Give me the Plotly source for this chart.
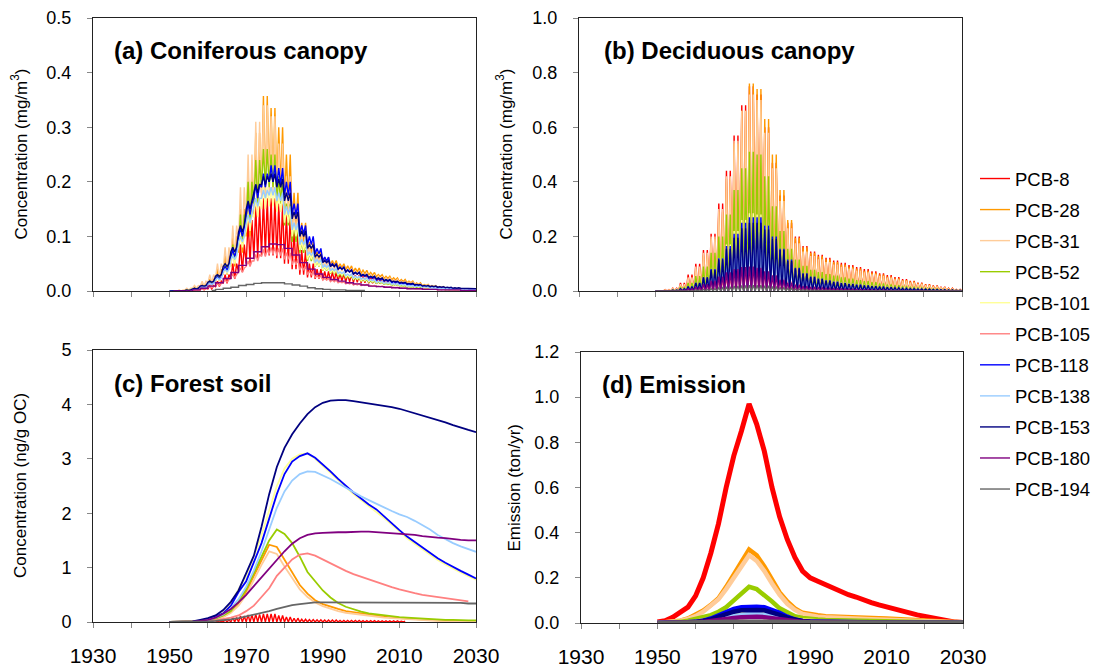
import plotly.graph_objects as go

# ---------------- data ----------------
SERIES = ["PCB-8", "PCB-28", "PCB-31", "PCB-52", "PCB-101", "PCB-105",
          "PCB-118", "PCB-138", "PCB-153", "PCB-180", "PCB-194"]
COLORS = ["#FF0000", "#FF9900", "#FFCC99", "#99CC00", "#FFFF99", "#FF8080",
          "#0000FF", "#99CCFF", "#000080", "#800080", "#666666"]

# two-year bins: 1950, 1952, ..., 2030
BIN_START = list(range(1950, 2031, 2))
X_TICKS = [1930, 1950, 1970, 1990, 2010, 2030]

N = None
# (a) Coniferous canopy, mg/m3 : summer peak and winter trough per 2-yr bin
A_PEAK = {
    "PCB-8":   [N, N, 0, 0.002, 0.005, 0.01, 0.018, 0.03, 0.05, 0.085, 0.13, 0.155, 0.17, 0.17, 0.16, 0.14, 0.11, 0.075, 0.05, 0.04,
                0.036, 0.034, 0.032, 0.031, 0.029, 0.027, 0.026, 0.025, 0.024, 0.022, 0.02, N, N, N, N, N, N, N, N, N, N],
    "PCB-28":  [0, 0, 0.002, 0.006, 0.012, 0.022, 0.04, 0.065, 0.1, 0.15, 0.22, 0.29, 0.357, 0.335, 0.3, 0.25, 0.18, 0.125, 0.09, 0.072,
                0.062, 0.056, 0.05, 0.046, 0.042, 0.038, 0.034, 0.03, 0.027, 0.024, 0.021, 0.018, 0.015, 0.012, 0.01, 0.008, 0.006, 0.005, 0.004, 0.003, 0.002],
    "PCB-31":  [0, 0.002, 0.005, 0.01, 0.018, 0.03, 0.05, 0.08, 0.12, 0.19, 0.25, 0.31, 0.34, 0.32, 0.27, 0.21, 0.15, 0.105, 0.08, 0.065,
                0.056, 0.05, 0.045, 0.041, 0.037, 0.033, 0.03, 0.027, 0.024, 0.021, 0.018, 0.016, 0.013, 0.011, 0.009, 0.007, 0.005, 0.004, 0.003, 0.002, 0.002],
    "PCB-52":  [0, 0, 0.002, 0.005, 0.01, 0.018, 0.03, 0.05, 0.085, 0.14, 0.2, 0.24, 0.26, 0.25, 0.21, 0.16, 0.12, 0.09, 0.07, 0.055,
                0.045, 0.038, 0.032, 0.028, 0.024, 0.021, 0.018, 0.016, 0.014, 0.012, 0.01, 0.008, 0.007, 0.006, 0.005, 0.004, 0.003, 0.002, 0.002, 0.001, 0.001],
    "PCB-101": [0, 0, 0.001, 0.004, 0.008, 0.015, 0.025, 0.04, 0.065, 0.1, 0.14, 0.17, 0.19, 0.19, 0.175, 0.15, 0.12, 0.09, 0.07, 0.055,
                0.045, 0.039, 0.034, 0.03, 0.026, 0.023, 0.02, 0.018, 0.016, 0.014, 0.012, 0.01, 0.009, 0.007, 0.006, 0.005, 0.004, 0.003, 0.002, 0.002, 0.001],
    "PCB-105": [0, 0, 0, 0.002, 0.004, 0.008, 0.013, 0.02, 0.03, 0.042, 0.055, 0.067, 0.076, 0.08, 0.078, 0.07, 0.058, 0.046, 0.036, 0.028,
                0.023, 0.02, 0.017, 0.015, 0.013, 0.012, 0.01, 0.009, 0.008, 0.007, 0.006, 0.005, 0.004, 0.004, 0.003, 0.003, 0.002, 0.002, 0.002, 0.001, 0.001],
    "PCB-118": [0, 0, 0.001, 0.004, 0.008, 0.015, 0.026, 0.045, 0.075, 0.115, 0.16, 0.195, 0.215, 0.23, 0.225, 0.2, 0.16, 0.12, 0.1, 0.078,
                0.062, 0.05, 0.044, 0.039, 0.034, 0.03, 0.026, 0.023, 0.02, 0.017, 0.015, 0.013, 0.011, 0.009, 0.008, 0.006, 0.005, 0.004, 0.003, 0.003, 0.002],
    "PCB-138": [0, 0, 0.001, 0.004, 0.008, 0.014, 0.024, 0.04, 0.065, 0.1, 0.14, 0.17, 0.185, 0.19, 0.18, 0.155, 0.125, 0.095, 0.072, 0.058,
                0.048, 0.041, 0.035, 0.031, 0.027, 0.024, 0.021, 0.018, 0.016, 0.014, 0.012, 0.01, 0.009, 0.008, 0.006, 0.005, 0.004, 0.003, 0.003, 0.002, 0.002],
    "PCB-153": [0, 0, 0.002, 0.005, 0.01, 0.018, 0.03, 0.05, 0.08, 0.12, 0.165, 0.195, 0.21, 0.215, 0.205, 0.18, 0.145, 0.11, 0.085, 0.067,
                0.056, 0.049, 0.043, 0.038, 0.034, 0.03, 0.027, 0.024, 0.021, 0.018, 0.016, 0.014, 0.012, 0.01, 0.009, 0.008, 0.007, 0.006, 0.005, 0.004, 0.004],
    "PCB-180": [0, 0, 0, 0.002, 0.005, 0.009, 0.015, 0.023, 0.034, 0.047, 0.06, 0.072, 0.081, 0.086, 0.085, 0.078, 0.066, 0.052, 0.04, 0.031,
                0.025, 0.021, 0.018, 0.015, 0.013, 0.011, 0.009, 0.008, 0.007, 0.006, 0.005, 0.004, 0.004, 0.003, 0.003, 0.002, 0.002, 0.002, 0.001, 0.001, 0.001],
    "PCB-194": [N, N, N, N, N, 0.001, 0.003, 0.005, 0.007, 0.01, 0.012, 0.014, 0.015, 0.015, 0.015, 0.013, 0.011, 0.009, 0.006, 0.004,
                0.003, 0.002, 0.002, 0.001, 0.001, 0.001, N, N, N, N, N, N, N, N, N, N, N, N, N, N, N],
}
A_TROUGH = {
    "PCB-8":   [N, N, 0, 0.001, 0.002, 0.004, 0.008, 0.014, 0.022, 0.035, 0.05, 0.06, 0.065, 0.065, 0.06, 0.05, 0.04, 0.03, 0.025, 0.022,
                0.02, 0.019, 0.018, 0.017, 0.016, 0.015, 0.014, 0.013, 0.012, 0.011, 0.01, N, N, N, N, N, N, N, N, N, N],
    "PCB-28":  [0, 0, 0, 0.002, 0.005, 0.01, 0.018, 0.03, 0.045, 0.07, 0.1, 0.14, 0.18, 0.2, 0.19, 0.16, 0.12, 0.09, 0.07, 0.058,
                0.052, 0.047, 0.043, 0.039, 0.035, 0.032, 0.029, 0.026, 0.023, 0.02, 0.017, 0.015, 0.012, 0.01, 0.008, 0.006, 0.005, 0.004, 0.003, 0.002, 0.001],
    "PCB-31":  [0, 0, 0.002, 0.005, 0.009, 0.015, 0.025, 0.04, 0.06, 0.09, 0.12, 0.15, 0.17, 0.18, 0.16, 0.13, 0.1, 0.075, 0.06, 0.05,
                0.045, 0.04, 0.036, 0.033, 0.03, 0.027, 0.024, 0.021, 0.019, 0.017, 0.015, 0.013, 0.011, 0.009, 0.007, 0.006, 0.004, 0.003, 0.002, 0.002, 0.001],
    "PCB-52":  [0, 0, 0.001, 0.004, 0.008, 0.014, 0.022, 0.035, 0.055, 0.08, 0.12, 0.16, 0.19, 0.19, 0.16, 0.12, 0.09, 0.07, 0.055, 0.045,
                0.037, 0.032, 0.027, 0.024, 0.021, 0.018, 0.016, 0.014, 0.012, 0.01, 0.009, 0.007, 0.006, 0.005, 0.004, 0.003, 0.002, 0.002, 0.001, 0.001, 0.001],
    "PCB-101": [0, 0, 0.001, 0.003, 0.007, 0.012, 0.02, 0.032, 0.05, 0.08, 0.11, 0.135, 0.15, 0.155, 0.145, 0.125, 0.1, 0.075, 0.058, 0.046,
                0.038, 0.033, 0.029, 0.025, 0.022, 0.019, 0.017, 0.015, 0.013, 0.011, 0.01, 0.008, 0.007, 0.006, 0.005, 0.004, 0.003, 0.002, 0.002, 0.001, 0.001],
    "PCB-105": [0, 0, 0, 0.001, 0.003, 0.006, 0.01, 0.016, 0.024, 0.034, 0.045, 0.055, 0.063, 0.067, 0.065, 0.058, 0.048, 0.038, 0.03, 0.024,
                0.02, 0.017, 0.015, 0.013, 0.011, 0.01, 0.009, 0.008, 0.007, 0.006, 0.005, 0.004, 0.004, 0.003, 0.003, 0.002, 0.002, 0.002, 0.001, 0.001, 0.001],
    "PCB-118": [0, 0, 0.001, 0.003, 0.007, 0.012, 0.022, 0.038, 0.063, 0.1, 0.14, 0.17, 0.19, 0.2, 0.195, 0.175, 0.14, 0.105, 0.085, 0.068,
                0.055, 0.045, 0.04, 0.035, 0.031, 0.027, 0.023, 0.02, 0.018, 0.015, 0.013, 0.011, 0.01, 0.008, 0.007, 0.005, 0.004, 0.004, 0.003, 0.002, 0.002],
    "PCB-138": [0, 0, 0.001, 0.003, 0.007, 0.012, 0.021, 0.035, 0.058, 0.09, 0.125, 0.155, 0.17, 0.175, 0.165, 0.14, 0.112, 0.085, 0.065, 0.052,
                0.043, 0.037, 0.032, 0.028, 0.024, 0.021, 0.019, 0.016, 0.014, 0.012, 0.011, 0.009, 0.008, 0.007, 0.005, 0.004, 0.004, 0.003, 0.002, 0.002, 0.001],
    "PCB-153": [0, 0, 0.001, 0.004, 0.009, 0.016, 0.027, 0.045, 0.072, 0.108, 0.15, 0.18, 0.195, 0.2, 0.19, 0.165, 0.132, 0.1, 0.078, 0.062,
                0.052, 0.045, 0.04, 0.035, 0.031, 0.028, 0.025, 0.022, 0.019, 0.017, 0.015, 0.013, 0.011, 0.009, 0.008, 0.007, 0.006, 0.005, 0.005, 0.004, 0.004],
}

# (b) Deciduous canopy, mg/m3 : summer peak per 2-yr bin (leaf-free winter = 0)
B_WINTER = 0.0
B_PEAK = {
    "PCB-8":   [0, 0.005, 0.01, 0.03, 0.06, 0.1, 0.15, 0.21, 0.32, 0.44, 0.57, 0.68, 0.75, 0.72, 0.6, 0.47, 0.35, 0.25, 0.2, 0.165,
                0.145, 0.133, 0.122, 0.112, 0.103, 0.095, 0.088, 0.08, 0.072, 0.065, 0.058, 0.051, 0.044, 0.037, 0.031, 0.025, 0.02, 0.015, 0.01, 0.006, 0.003],
    "PCB-28":  [0, 0.003, 0.008, 0.02, 0.045, 0.08, 0.13, 0.19, 0.29, 0.41, 0.54, 0.66, 0.76, 0.74, 0.63, 0.5, 0.37, 0.26, 0.195, 0.16,
                0.14, 0.127, 0.116, 0.106, 0.097, 0.089, 0.082, 0.074, 0.067, 0.06, 0.053, 0.046, 0.04, 0.034, 0.028, 0.023, 0.018, 0.013, 0.009, 0.005, 0.003],
    "PCB-31":  [0, 0.004, 0.009, 0.025, 0.05, 0.09, 0.14, 0.2, 0.3, 0.42, 0.55, 0.66, 0.72, 0.7, 0.58, 0.45, 0.33, 0.23, 0.175, 0.145,
                0.128, 0.116, 0.106, 0.097, 0.089, 0.082, 0.075, 0.068, 0.061, 0.055, 0.049, 0.043, 0.037, 0.031, 0.026, 0.021, 0.016, 0.012, 0.008, 0.005, 0.002],
    "PCB-52":  [0, 0.002, 0.005, 0.015, 0.03, 0.055, 0.09, 0.14, 0.2, 0.28, 0.37, 0.45, 0.51, 0.5, 0.42, 0.31, 0.22, 0.155, 0.115, 0.092,
                0.078, 0.069, 0.062, 0.056, 0.05, 0.045, 0.04, 0.036, 0.032, 0.028, 0.024, 0.021, 0.018, 0.015, 0.012, 0.01, 0.008, 0.006, 0.004, 0.003, 0.002],
    "PCB-101": [0, 0.001, 0.003, 0.008, 0.016, 0.03, 0.05, 0.08, 0.12, 0.17, 0.22, 0.26, 0.285, 0.28, 0.24, 0.19, 0.14, 0.1, 0.075, 0.06,
                0.05, 0.044, 0.039, 0.035, 0.031, 0.028, 0.025, 0.022, 0.019, 0.017, 0.015, 0.013, 0.011, 0.009, 0.008, 0.006, 0.005, 0.004, 0.003, 0.002, 0.001],
    "PCB-105": [0, 0, 0.001, 0.003, 0.006, 0.011, 0.018, 0.027, 0.038, 0.05, 0.062, 0.072, 0.078, 0.077, 0.07, 0.058, 0.045, 0.034, 0.026, 0.02,
                0.016, 0.014, 0.012, 0.01, 0.009, 0.008, 0.007, 0.006, 0.005, 0.005, 0.004, 0.003, 0.003, 0.002, 0.002, 0.002, 0.001, 0.001, 0.001, 0, 0],
    "PCB-118": [0, 0.001, 0.003, 0.008, 0.016, 0.03, 0.05, 0.08, 0.12, 0.165, 0.21, 0.25, 0.27, 0.27, 0.24, 0.2, 0.155, 0.115, 0.085, 0.065,
                0.053, 0.045, 0.039, 0.034, 0.03, 0.026, 0.023, 0.02, 0.017, 0.015, 0.013, 0.011, 0.009, 0.008, 0.006, 0.005, 0.004, 0.003, 0.002, 0.002, 0.001],
    "PCB-138": [0, 0.001, 0.002, 0.006, 0.012, 0.022, 0.037, 0.058, 0.085, 0.115, 0.145, 0.17, 0.185, 0.19, 0.175, 0.15, 0.12, 0.09, 0.068, 0.053,
                0.043, 0.037, 0.032, 0.028, 0.025, 0.022, 0.019, 0.017, 0.015, 0.013, 0.011, 0.009, 0.008, 0.007, 0.005, 0.004, 0.003, 0.003, 0.002, 0.001, 0.001],
    "PCB-153": [0, 0.001, 0.003, 0.008, 0.016, 0.03, 0.05, 0.078, 0.115, 0.155, 0.195, 0.23, 0.25, 0.25, 0.225, 0.19, 0.15, 0.11, 0.082, 0.063,
                0.051, 0.044, 0.038, 0.033, 0.029, 0.026, 0.023, 0.02, 0.018, 0.016, 0.014, 0.012, 0.01, 0.009, 0.008, 0.007, 0.006, 0.005, 0.004, 0.003, 0.003],
    "PCB-180": [0, 0, 0.001, 0.004, 0.008, 0.015, 0.025, 0.038, 0.053, 0.068, 0.08, 0.088, 0.09, 0.085, 0.072, 0.056, 0.041, 0.03, 0.022, 0.017,
                0.014, 0.012, 0.01, 0.009, 0.008, 0.007, 0.006, 0.005, 0.004, 0.004, 0.003, 0.003, 0.002, 0.002, 0.002, 0.001, 0.001, 0.001, 0.001, 0, 0],
    "PCB-194": [0, 0, 0, 0.001, 0.002, 0.004, 0.006, 0.009, 0.012, 0.015, 0.018, 0.02, 0.021, 0.021, 0.019, 0.016, 0.013, 0.01, 0.007, 0.005,
                0.004, 0.003, 0.003, 0.002, 0.002, 0.002, 0.001, 0.001, 0.001, 0.001, 0, 0, 0, 0, 0, 0, 0, 0, 0, 0, 0],
}

# (c) Forest soil, ng/g OC, value at start of each 2-yr bin
C_VAL = {
    "PCB-8":   [N, N, N, N, N, N, 0.01, 0.04, 0.08, 0.11, 0.13, 0.14, 0.15, 0.15, 0.12, 0.09, 0.07, 0.05, 0.045, 0.04,
                0.035, 0.035, 0.03, 0.03, 0.03, 0.025, 0.025, 0.02, 0.02, 0.02, 0.015, N, N, N, N, N, N, N, N, N, N],
    "PCB-28":  [0, 0, 0, 0, 0.01, 0.02, 0.05, 0.1, 0.18, 0.33, 0.55, 0.85, 1.15, 1.42, 1.38, 1.15, 0.9, 0.68, 0.52, 0.4,
                0.33, 0.28, 0.24, 0.2, 0.18, 0.15, 0.13, 0.11, 0.1, 0.08, 0.07, 0.06, 0.05, 0.04, 0.035, 0.03, 0.025, 0.02, 0.015, 0.01, 0.01],
    "PCB-31":  [0, 0, 0, 0, 0.01, 0.02, 0.05, 0.09, 0.17, 0.3, 0.5, 0.78, 1.05, 1.3, 1.25, 1.02, 0.8, 0.6, 0.46, 0.36,
                0.29, 0.24, 0.2, 0.17, 0.15, 0.13, 0.11, 0.09, 0.08, 0.07, 0.06, 0.05, 0.04, 0.03, 0.02, 0.02, 0.01, 0.01, 0.01, 0.01, 0.01],
    "PCB-52":  [0, 0, 0, 0, 0.01, 0.03, 0.06, 0.12, 0.2, 0.38, 0.6, 0.9, 1.2, 1.5, 1.7, 1.62, 1.45, 1.2, 0.92, 0.75,
                0.58, 0.45, 0.35, 0.28, 0.23, 0.19, 0.16, 0.14, 0.12, 0.1, 0.09, 0.08, 0.07, 0.06, 0.05, 0.05, 0.04, 0.04, 0.03, 0.03, 0.03],
    "PCB-101": [0, 0, 0, 0, 0.02, 0.06, 0.12, 0.2, 0.35, 0.6, 0.85, 1.2, 1.6, 2.05, 2.5, 2.82, 3.0, 3.08, 3.1, 3.0,
                2.87, 2.74, 2.6, 2.47, 2.35, 2.24, 2.13, 2.03, 1.91, 1.79, 1.66, 1.54, 1.44, 1.34, 1.24, 1.14, 1.06, 0.98, 0.91, 0.84, 0.78],
    "PCB-105": [0, 0, 0, 0, 0.005, 0.01, 0.03, 0.05, 0.08, 0.12, 0.2, 0.3, 0.45, 0.62, 0.85, 1.0, 1.15, 1.24, 1.26, 1.22,
                1.15, 1.08, 1.0, 0.94, 0.88, 0.83, 0.78, 0.73, 0.68, 0.64, 0.6, 0.56, 0.53, 0.5, 0.48, 0.46, 0.44, 0.42, 0.4, 0.38, N],
    "PCB-118": [0, 0, 0, 0, 0.02, 0.05, 0.1, 0.16, 0.3, 0.55, 0.75, 1.1, 1.45, 1.9, 2.35, 2.72, 2.95, 3.05, 3.1, 3.02,
                2.9, 2.77, 2.63, 2.5, 2.38, 2.27, 2.16, 2.07, 1.94, 1.82, 1.69, 1.57, 1.47, 1.37, 1.27, 1.17, 1.09, 1.01, 0.94, 0.87, 0.8],
    "PCB-138": [0, 0, 0, 0, 0.02, 0.04, 0.08, 0.14, 0.25, 0.42, 0.65, 0.95, 1.3, 1.7, 2.1, 2.4, 2.6, 2.72, 2.77, 2.76,
                2.7, 2.63, 2.55, 2.47, 2.38, 2.31, 2.24, 2.17, 2.1, 2.04, 1.98, 1.93, 1.86, 1.78, 1.7, 1.6, 1.52, 1.45, 1.39, 1.34, 1.29],
    "PCB-153": [0, 0, 0, 0.01, 0.04, 0.07, 0.12, 0.22, 0.37, 0.58, 0.9, 1.22, 1.75, 2.35, 2.85, 3.2, 3.45, 3.65, 3.82, 3.95,
                4.03, 4.07, 4.08, 4.08, 4.06, 4.04, 4.02, 3.99, 3.97, 3.95, 3.92, 3.88, 3.84, 3.8, 3.76, 3.71, 3.67, 3.62, 3.57, 3.53, 3.49],
    "PCB-180": [0, 0, 0, 0.005, 0.02, 0.04, 0.08, 0.15, 0.24, 0.36, 0.5, 0.66, 0.82, 1.0, 1.14, 1.3, 1.44, 1.54, 1.6, 1.63,
                1.64, 1.65, 1.65, 1.65, 1.66, 1.66, 1.66, 1.65, 1.65, 1.64, 1.63, 1.62, 1.6, 1.58, 1.56, 1.55, 1.54, 1.52, 1.51, 1.5, 1.5],
    "PCB-194": [0, 0, 0, 0, 0, 0.01, 0.02, 0.03, 0.05, 0.07, 0.1, 0.13, 0.16, 0.2, 0.24, 0.28, 0.31, 0.33, 0.35, 0.36,
                0.36, 0.36, 0.36, 0.36, 0.36, 0.36, 0.36, 0.36, 0.36, 0.36, 0.36, 0.36, 0.36, 0.36, 0.36, 0.36, 0.36, 0.36, 0.35, 0.34, 0.34],
}

# (d) Emission, ton/yr
D_VAL = {
    "PCB-8":   [0.005, 0.01, 0.025, 0.05, 0.07, 0.12, 0.2, 0.31, 0.44, 0.6, 0.74, 0.85, 0.97, 0.88, 0.76, 0.6, 0.47, 0.37, 0.29, 0.23,
                0.2, 0.185, 0.17, 0.155, 0.135, 0.125, 0.115, 0.1, 0.09, 0.08, 0.07, 0.064, 0.053, 0.045, 0.036, 0.03, 0.022, 0.015, 0.008, 0.004, 0.002],
    "PCB-28":  [0, 0.002, 0.005, 0.01, 0.02, 0.035, 0.055, 0.08, 0.11, 0.16, 0.22, 0.27, 0.325, 0.3, 0.25, 0.19, 0.135, 0.095, 0.065, 0.045,
                0.038, 0.034, 0.03, 0.028, 0.026, 0.025, 0.024, 0.023, 0.022, 0.021, 0.02, 0.019, 0.018, 0.016, 0.014, 0.012, 0.01, 0.008, 0.006, 0.004, 0.003],
    "PCB-31":  [0, 0.002, 0.005, 0.01, 0.018, 0.03, 0.05, 0.075, 0.105, 0.15, 0.2, 0.25, 0.3, 0.275, 0.23, 0.175, 0.125, 0.085, 0.058, 0.04,
                0.032, 0.028, 0.025, 0.023, 0.021, 0.02, 0.019, 0.018, 0.017, 0.016, 0.015, 0.014, 0.013, 0.012, 0.011, 0.01, 0.008, 0.006, 0.005, 0.003, 0.002],
    "PCB-52":  [0, 0.001, 0.003, 0.005, 0.01, 0.017, 0.025, 0.035, 0.05, 0.07, 0.1, 0.13, 0.16, 0.15, 0.125, 0.095, 0.065, 0.045, 0.03, 0.022,
                0.017, 0.015, 0.013, 0.012, 0.011, 0.01, 0.009, 0.008, 0.008, 0.007, 0.006, 0.006, 0.005, 0.005, 0.004, 0.004, 0.003, 0.003, 0.002, 0.002, 0.001],
    "PCB-101": [0, 0, 0.001, 0.002, 0.004, 0.006, 0.01, 0.015, 0.022, 0.03, 0.04, 0.05, 0.058, 0.058, 0.052, 0.042, 0.032, 0.023, 0.016, 0.011,
                0.008, 0.007, 0.006, 0.005, 0.004, 0.004, 0.003, 0.003, 0.002, 0.002, 0.002, 0.002, 0.001, 0.001, 0.001, 0.001, 0.001, 0, 0, 0, 0],
    "PCB-105": [0, 0, 0, 0.001, 0.002, 0.003, 0.005, 0.008, 0.012, 0.016, 0.021, 0.026, 0.03, 0.03, 0.027, 0.022, 0.017, 0.012, 0.009, 0.006,
                0.005, 0.004, 0.003, 0.003, 0.002, 0.002, 0.002, 0.001, 0.001, 0.001, 0.001, 0.001, 0, 0, 0, 0, 0, 0, 0, 0, 0],
    "PCB-118": [0, 0, 0.001, 0.002, 0.004, 0.006, 0.01, 0.02, 0.035, 0.05, 0.062, 0.07, 0.072, 0.072, 0.07, 0.06, 0.045, 0.028, 0.015, 0.009,
                0.006, 0.005, 0.004, 0.004, 0.003, 0.003, 0.003, 0.002, 0.002, 0.002, 0.002, 0.002, 0.001, 0.001, 0.001, 0.001, 0.001, 0.001, 0.001, 0, 0],
    "PCB-138": [0, 0, 0.001, 0.001, 0.002, 0.004, 0.006, 0.01, 0.016, 0.023, 0.03, 0.036, 0.04, 0.04, 0.038, 0.032, 0.024, 0.016, 0.01, 0.007,
                0.005, 0.004, 0.004, 0.003, 0.003, 0.003, 0.002, 0.002, 0.002, 0.002, 0.001, 0.001, 0.001, 0.001, 0.001, 0.001, 0.001, 0, 0, 0, 0],
    "PCB-153": [0, 0, 0.001, 0.002, 0.003, 0.005, 0.008, 0.016, 0.028, 0.04, 0.05, 0.056, 0.058, 0.058, 0.056, 0.048, 0.036, 0.024, 0.014, 0.009,
                0.007, 0.006, 0.005, 0.005, 0.004, 0.004, 0.004, 0.003, 0.003, 0.003, 0.003, 0.002, 0.002, 0.002, 0.002, 0.002, 0.001, 0.001, 0.001, 0.001, 0.001],
    "PCB-180": [0, 0, 0, 0.001, 0.002, 0.003, 0.005, 0.008, 0.012, 0.017, 0.022, 0.026, 0.028, 0.028, 0.026, 0.021, 0.016, 0.011, 0.008, 0.005,
                0.004, 0.003, 0.003, 0.002, 0.002, 0.002, 0.002, 0.001, 0.001, 0.001, 0.001, 0.001, 0.001, 0.001, 0, 0, 0, 0, 0, 0, 0],
    "PCB-194": [0, 0, 0, 0, 0.001, 0.001, 0.002, 0.003, 0.004, 0.005, 0.006, 0.006, 0.007, 0.007, 0.006, 0.005, 0.004, 0.003, 0.003, 0.002,
                0.002, 0.002, 0.002, 0.002, 0.002, 0.002, 0.002, 0.002, 0.002, 0.002, 0.002, 0.002, 0.002, 0.002, 0.002, 0.002, 0.002, 0.002, 0.002, 0.002, 0.002],
}

PANEL_TITLES = ["(a) Coniferous canopy", "(b) Deciduous canopy", "(c) Forest soil", "(d) Emission"]
Y_TITLES = ["Concentration (mg/m<sup>3</sup>)", "Concentration (mg/m<sup>3</sup>)",
            "Concentration (ng/g OC)", "Emission (ton/yr)"]
Y_RANGES = [[0, 0.5], [0, 1.0], [0, 5], [0, 1.2]]
Y_DTICKS = [0.1, 0.2, 1, 0.2]
Y_FORMATS = [".1f", ".1f", "d", ".1f"]


# ---------------- helpers ----------------
def seasonal(peaks, troughs):
    """Each 2-yr bin holds one summer peak and one winter trough; draw one cycle per year."""
    xs, ys = [], []
    for start, p, t in zip(BIN_START, peaks, troughs):
        for yr in (start, start + 1):
            xs += [yr, yr + 0.5]
            ys += [t, p]
    return xs, ys


FONT = "Liberation Sans, Arial, sans-serif"
W, H = 1099, 670
# plot areas in pixels (left, right, top, bottom)
BOXES = [(93, 476, 18, 291), (579, 962, 18, 291), (93, 476, 350, 622), (581, 963, 352, 623)]
TITLE_POS = [(112, 51), (602, 51), (112, 383), (600, 384)]
Y_TITLE_X = [20, 505, 20, 514]

fig = go.Figure()

for k, (name, col) in enumerate(zip(SERIES, COLORS)):
    # (a)
    if name in A_TROUGH:
        xs, ys = seasonal(A_PEAK[name], A_TROUGH[name])
        fig.add_trace(go.Scatter(x=xs, y=ys, mode="lines", line=dict(color=col, width=1.4),
                                 name=name, legendgroup=name, showlegend=True,
                                 xaxis="x", yaxis="y"))
    else:
        fig.add_trace(go.Scatter(x=[b + 1 for b in BIN_START], y=A_PEAK[name], mode="lines",
                                 line=dict(color=col, width=1.4, shape="hvh"),
                                 name=name, legendgroup=name, showlegend=True,
                                 xaxis="x", yaxis="y"))
    # (b)
    xs, ys = seasonal(B_PEAK[name], [B_WINTER] * len(BIN_START))
    fig.add_trace(go.Scatter(x=xs, y=ys, mode="lines", line=dict(color=col, width=1.4),
                             name=name, legendgroup=name, showlegend=False,
                             xaxis="x2", yaxis="y2"))
    # (c)
    if name == "PCB-8":
        xs, ys = seasonal(C_VAL[name], [0 if v is not None else None for v in C_VAL[name]])
        fig.add_trace(go.Scatter(x=xs, y=ys, mode="lines", line=dict(color=col, width=1.4),
                                 name=name, legendgroup=name, showlegend=False,
                                 xaxis="x3", yaxis="y3"))
    else:
        fig.add_trace(go.Scatter(x=BIN_START, y=C_VAL[name], mode="lines",
                                 line=dict(color=col, width=1.8),
                                 name=name, legendgroup=name, showlegend=False,
                                 xaxis="x3", yaxis="y3"))
    # (d)
    fig.add_trace(go.Scatter(x=BIN_START, y=D_VAL[name], mode="lines",
                             line=dict(color=col, width=5 if name == "PCB-8" else 4.5),
                             name=name, legendgroup=name, showlegend=False,
                             xaxis="x4", yaxis="y4"))

layout = dict(
    width=W, height=H, margin=dict(l=0, r=0, t=0, b=0, autoexpand=False),
    paper_bgcolor="white", plot_bgcolor="white",
    font=dict(family=FONT, size=17, color="black"),
    showlegend=True,
    legend=dict(x=975 / W, y=1 - 160 / H, xanchor="left", yanchor="top",
                traceorder="grouped", tracegroupgap=4,
                font=dict(family=FONT, size=18.5, color="black"),
                bgcolor="rgba(0,0,0,0)"),
)

annotations = []
for i, (l, r, t, b) in enumerate(BOXES):
    sfx = "" if i == 0 else str(i + 1)
    bottom = i >= 2
    xa = dict(domain=[l / W, r / W], anchor="y" + sfx, range=[1930, 2030],
              showgrid=False, zeroline=False, showline=True, linecolor="#222", linewidth=1,
              mirror=True, ticks="outside", ticklen=5, tickcolor="#888", tickwidth=1,
              tick0=1930, dtick=20 if bottom else 10, showticklabels=bottom,
              tickfont=dict(family=FONT, size=21, color="black"),
              ticklabelstandoff=10, automargin=False)
    if bottom:
        xa["tickvals"] = X_TICKS
        xa["minor"] = dict(ticks="outside", ticklen=5, tickcolor="#888", dtick=10, tick0=1930)
    ya = dict(domain=[1 - b / H, 1 - t / H], anchor="x" + sfx, range=Y_RANGES[i],
              showgrid=False, zeroline=False, showline=True, linecolor="#222", linewidth=1,
              mirror=True, ticks="outside", ticklen=5, tickcolor="#888",
              tick0=0, dtick=Y_DTICKS[i], tickformat=Y_FORMATS[i],
              tickfont=dict(family=FONT, size=18, color="black"), ticklabelstandoff=12,
              automargin=False)
    layout["xaxis" + sfx] = xa
    layout["yaxis" + sfx] = ya
    tx, ty = TITLE_POS[i]
    annotations.append(dict(text="<b>" + PANEL_TITLES[i] + "</b>", xref="paper", yref="paper",
                            x=tx / W, y=1 - ty / H, xanchor="left", yanchor="middle",
                            showarrow=False, font=dict(family=FONT, size=24, color="black")))

for i, (l, r, t, b) in enumerate(BOXES):
    annotations.append(dict(text=Y_TITLES[i], xref="paper", yref="paper",
                            x=Y_TITLE_X[i] / W, y=1 - ((t + b) / 2) / H, textangle=-90,
                            xanchor="center", yanchor="middle", showarrow=False,
                            font=dict(family=FONT, size=17, color="black")))
layout["annotations"] = annotations

fig.update_layout(**layout)
fig.write_html("out.html")
